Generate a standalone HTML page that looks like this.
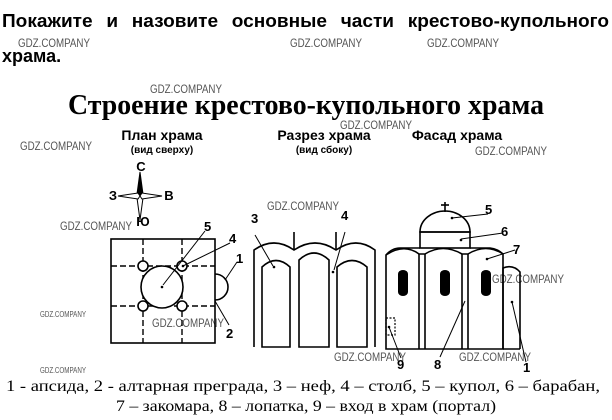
<!DOCTYPE html>
<html><head><meta charset="utf-8"><style>
body{margin:0;background:#fff;width:612px;height:420px;overflow:hidden}
svg{display:block}
.wm{font-family:"Liberation Sans Narrow","Liberation Sans",sans-serif;font-size:12px;fill:#555}
.n{font-family:"Liberation Sans",sans-serif;font-weight:bold;font-size:13px;fill:#000}
</style></head><body>
<svg width="612" height="420" viewBox="0 0 612 420" xmlns="http://www.w3.org/2000/svg">
<text x="2" y="27" font-family="Liberation Sans,sans-serif" font-weight="bold" font-size="18" word-spacing="8" textLength="607" lengthAdjust="spacingAndGlyphs">Покажите и назовите основные части крестово-купольного</text>
<text x="2" y="62" font-family="Liberation Sans,sans-serif" font-weight="bold" font-size="18">храма.</text>
<text x="306" y="114" text-anchor="middle" font-family="Liberation Serif,serif" font-weight="bold" font-size="28" textLength="476" lengthAdjust="spacingAndGlyphs">Строение крестово-купольного храма</text>

<g class="wm">
<text x="18" y="47" textLength="72" lengthAdjust="spacingAndGlyphs">GDZ.COMPANY</text>
<text x="290" y="47" textLength="72" lengthAdjust="spacingAndGlyphs">GDZ.COMPANY</text>
<text x="427" y="47" textLength="72" lengthAdjust="spacingAndGlyphs">GDZ.COMPANY</text>
<text x="150" y="93" textLength="72" lengthAdjust="spacingAndGlyphs">GDZ.COMPANY</text>
<text x="340" y="129" textLength="72" lengthAdjust="spacingAndGlyphs">GDZ.COMPANY</text>
<text x="20" y="150" textLength="72" lengthAdjust="spacingAndGlyphs">GDZ.COMPANY</text>
<text x="475" y="155" textLength="72" lengthAdjust="spacingAndGlyphs">GDZ.COMPANY</text>
<text x="60" y="230" textLength="72" lengthAdjust="spacingAndGlyphs">GDZ.COMPANY</text>
<text x="267" y="210" textLength="72" lengthAdjust="spacingAndGlyphs">GDZ.COMPANY</text>
<text x="152" y="327" textLength="72" lengthAdjust="spacingAndGlyphs">GDZ.COMPANY</text>
<text x="492" y="283" textLength="72" lengthAdjust="spacingAndGlyphs">GDZ.COMPANY</text>
<text x="334" y="361" textLength="72" lengthAdjust="spacingAndGlyphs">GDZ.COMPANY</text>
<text x="459" y="361" textLength="72" lengthAdjust="spacingAndGlyphs">GDZ.COMPANY</text>
<text x="40" y="317" font-size="8" textLength="46" lengthAdjust="spacingAndGlyphs">GDZ.COMPANY</text>
<text x="40" y="373" font-size="8" textLength="46" lengthAdjust="spacingAndGlyphs">GDZ.COMPANY</text>
</g>

<g font-family="Liberation Sans,sans-serif" font-weight="bold" text-anchor="middle">
<text x="162" y="140" font-size="14">План храма</text>
<text x="162" y="153" font-size="10">(вид сверху)</text>
<text x="324" y="140" font-size="14">Разрез храма</text>
<text x="324" y="153" font-size="10">(вид сбоку)</text>
<text x="457" y="140" font-size="14">Фасад храма</text>
</g>

<g stroke="#000" stroke-width="1" fill="none">
<path d="M140,172 L143,194 L140,196 L137,194 Z" fill="#000"/>
<path d="M140,196 L143,198 L140,220 L137,198 Z" fill="#fff"/>
<path d="M118,196 L138,193 L140,196 L138,199 Z" fill="#fff"/>
<path d="M162,196 L142,193 L140,196 L142,199 Z" fill="#fff"/>
</g>
<g class="n" text-anchor="middle" font-size="11">
<text x="141" y="171">С</text><text x="113" y="200">З</text><text x="169" y="200">В</text><text x="143" y="226">Ю</text>
</g>

<g stroke="#000" stroke-width="1.6" fill="none">
<rect x="111" y="239" width="104" height="104"/>
<g stroke-dasharray="6,3" stroke-width="1.4">
<line x1="143" y1="239" x2="143" y2="343"/><line x1="182" y1="239" x2="182" y2="343"/>
<line x1="111" y1="266" x2="215" y2="266"/><line x1="111" y1="306" x2="215" y2="306"/>
</g>
<circle cx="162" cy="287" r="21" fill="#fff"/>
<circle cx="143" cy="266" r="5" fill="#fff"/><circle cx="182" cy="266" r="5" fill="#fff"/>
<circle cx="143" cy="306" r="5" fill="#fff"/><circle cx="182" cy="306" r="5" fill="#fff"/>
<path d="M215,274 A13,13 0 0 1 215,300"/>
<g stroke-width="1">
<line x1="205" y1="231" x2="163" y2="285"/>
<line x1="230" y1="243" x2="183" y2="266"/>
<line x1="237" y1="262" x2="225" y2="280"/>
<line x1="229" y1="325" x2="215" y2="301"/>
</g>
</g>
<circle cx="162" cy="287" r="1.3"/><circle cx="183" cy="266" r="1.3"/>
<g class="n"><text x="204" y="231">5</text><text x="229" y="243">4</text><text x="236" y="263">1</text><text x="226" y="338">2</text></g>

<g stroke="#000" stroke-width="1.6" fill="none">
<path d="M254,347 V250 Q274,236 294,250 Q315,236 336,250 Q356,236 375,250 V347"/>
<line x1="294" y1="232" x2="294" y2="250"/><line x1="336" y1="232" x2="336" y2="250"/>
<path d="M262,347 V267 Q276,254 290,267 V347 Z"/>
<path d="M299,347 V260 Q314,246 329,260 V347 Z"/>
<path d="M337,347 V267 Q352,254 367,267 V347 Z"/>
<line x1="255" y1="235" x2="273" y2="266" stroke-width="1"/>
<line x1="345" y1="232" x2="334" y2="270" stroke-width="1"/>
</g>
<circle cx="274" cy="267" r="1.3"/><circle cx="333" cy="272" r="1.3"/>
<g class="n"><text x="251" y="223">3</text><text x="341" y="220">4</text></g>

<g stroke="#000" stroke-width="1.6" fill="none">
<line x1="445" y1="202" x2="445" y2="212"/><line x1="441" y1="205" x2="449" y2="205"/>
<path d="M420,232 A25,21 0 0 1 470,232 Z"/>
<rect x="420" y="232" width="50" height="16"/>
<path d="M386,349 V255 Q404,243 419,254 L425,254 Q443,243 462,254 L468,254 Q486,243 503,254 V349 Z"/>
<path d="M386,255 Q392,248 400,248 L420,248"/>
<path d="M470,248 L490,248 Q498,249 503,254"/>
<line x1="419" y1="254" x2="419" y2="349"/><line x1="425" y1="254" x2="425" y2="349"/>
<line x1="462" y1="254" x2="462" y2="349"/><line x1="468" y1="254" x2="468" y2="349"/>
<path d="M503,349 V268 Q513,264 520,272 V349"/>
<line x1="503" y1="349" x2="520" y2="349"/>
<rect x="386" y="318" width="9" height="17" stroke-dasharray="2,1.5" stroke-width="1.2"/>
<g stroke-width="1">
<line x1="488" y1="214" x2="452" y2="218"/>
<line x1="503" y1="233" x2="461" y2="239"/>
<line x1="515" y1="250" x2="487" y2="259"/>
<line x1="526" y1="362" x2="512" y2="302"/>
<line x1="440" y1="357" x2="465" y2="301"/>
<line x1="401" y1="358" x2="389" y2="327"/>
</g>
</g>
<g fill="#000">
<rect x="398" y="270" width="10" height="26" rx="5" ry="4"/>
<rect x="440" y="270" width="10" height="26" rx="5" ry="4"/>
<rect x="481" y="270" width="10" height="26" rx="5" ry="4"/>
<circle cx="452" cy="218" r="1.3"/><circle cx="461" cy="240" r="1.3"/><circle cx="487" cy="259" r="1.3"/><circle cx="512" cy="302" r="1.3"/><circle cx="389" cy="327" r="1.3"/>
</g>
<g class="n"><text x="485" y="214">5</text><text x="501" y="236">6</text><text x="513" y="254">7</text><text x="434" y="369">8</text><text x="397" y="369">9</text><text x="523" y="372">1</text></g>

<g font-family="Liberation Serif,serif" font-size="16" text-anchor="middle">
<text x="303" y="391" textLength="594" lengthAdjust="spacingAndGlyphs">1 - апсида, 2 - алтарная преграда, 3 – неф, 4 – столб, 5 – купол, 6 – барабан,</text>
<text x="306" y="411" textLength="380" lengthAdjust="spacingAndGlyphs">7 – закомара, 8 – лопатка, 9 – вход в храм (портал)</text>
</g>
</svg>
</body></html>
